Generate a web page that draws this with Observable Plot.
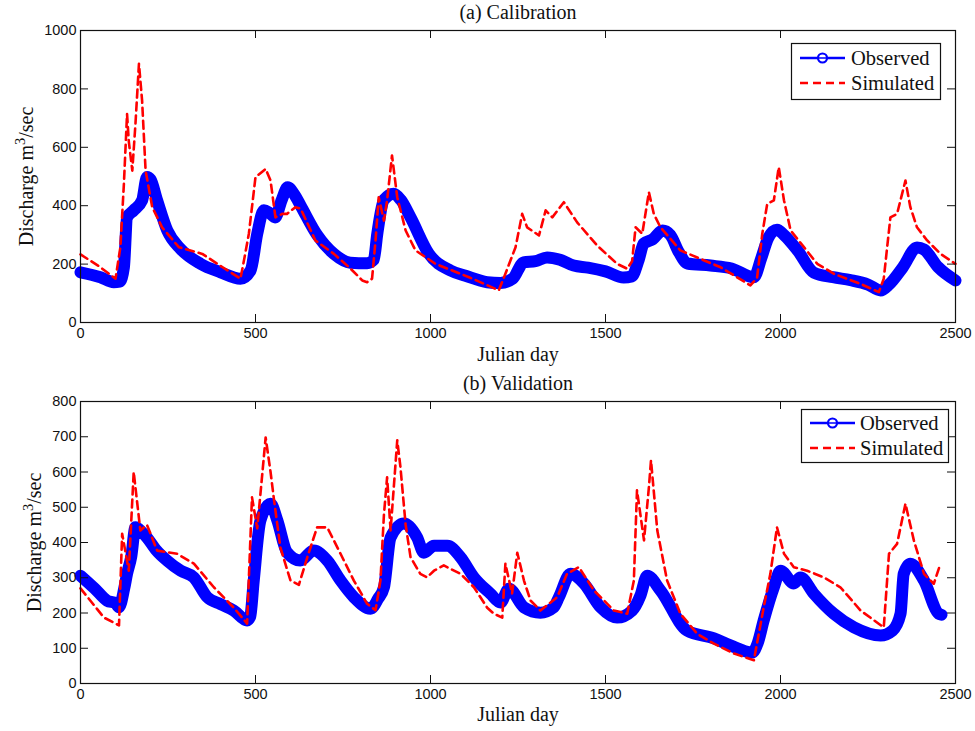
<!DOCTYPE html>
<html><head><meta charset="utf-8">
<script src="https://cdn.jsdelivr.net/npm/d3@7"></script>
<script src="https://cdn.jsdelivr.net/npm/@observablehq/plot@0.6"></script>
<style>
body{margin:0;background:#fff;}
#fig{position:relative;width:975px;height:731px;overflow:hidden;}
#fig > svg{display:block;}
.legend{position:absolute;left:0;top:0;}
</style></head><body><div id="fig"></div>
<script>
// ---- Data ----
const xTicks = [0, 500, 1000, 1500, 2000, 2500];
const calTicks = [0, 200, 400, 600, 800, 1000];
const valTicks = [0, 100, 200, 300, 400, 500, 600, 700, 800];
const seriesNames = ["Observed", "Simulated"];
const titles = ["(a) Calibration", "(b) Validation"];
const xLabel = "Julian day";
const yLabelParts = ["Discharge m", "3", "/sec"];

// (a) Calibration
const calObsDay = [0, 57, 95, 112, 124, 133, 152, 176, 190, 200, 219, 248, 286, 343, 400, 457, 486, 505, 524, 540, 556, 575, 592, 610, 629, 676, 724, 771, 819, 838, 848, 867, 895, 915, 943, 995, 1057, 1100, 1162, 1200, 1235, 1266, 1300, 1333, 1370, 1409, 1450, 1500, 1552, 1575, 1595, 1609, 1635, 1663, 1685, 1710, 1734, 1800, 1860, 1924, 1945, 1965, 1990, 2010, 2050, 2095, 2150, 2200, 2250, 2286, 2310, 2350, 2390, 2410, 2450, 2500];
const calObsQ = [172, 155, 138, 140, 189, 360, 384, 418, 498, 490, 418, 315, 252, 201, 172, 150, 178, 304, 384, 375, 360, 420, 463, 440, 400, 300, 235, 205, 203, 215, 304, 420, 441, 420, 360, 236, 178, 160, 138, 135, 150, 206, 210, 223, 215, 195, 188, 175, 154, 158, 215, 270, 285, 315, 300, 240, 202, 195, 185, 155, 220, 290, 318, 300, 245, 171, 155, 145, 130, 110, 130, 190, 257, 250, 190, 144];
const calSimDay = [0, 50, 100, 114, 124, 133, 138, 148, 157, 167, 176, 186, 205, 233, 281, 348, 405, 457, 467, 481, 500, 529, 543, 557, 576, 590, 614, 629, 671, 724, 771, 805, 819, 833, 843, 852, 867, 876, 890, 905, 929, 957, 1014, 1110, 1195, 1214, 1243, 1262, 1276, 1310, 1329, 1348, 1381, 1419, 1476, 1533, 1562, 1576, 1586, 1605, 1624, 1638, 1657, 1714, 1771, 1829, 1914, 1933, 1948, 1962, 1981, 1995, 2010, 2029, 2067, 2105, 2152, 2229, 2281, 2295, 2314, 2333, 2357, 2371, 2390, 2419, 2457, 2500];
const calSimQ = [233, 195, 150, 258, 475, 714, 620, 520, 680, 886, 760, 520, 395, 326, 258, 235, 190, 150, 212, 304, 498, 526, 486, 360, 372, 372, 395, 390, 281, 235, 185, 144, 138, 150, 281, 429, 349, 418, 572, 429, 315, 247, 201, 155, 110, 167, 258, 372, 326, 298, 384, 360, 412, 343, 264, 201, 184, 210, 326, 304, 446, 372, 326, 247, 218, 189, 127, 153, 304, 406, 418, 532, 418, 315, 258, 201, 167, 132, 104, 150, 360, 372, 486, 395, 326, 281, 235, 201];

// (b) Validation
const valObsDay = [0, 40, 76, 100, 110, 125, 133, 145, 157, 175, 190, 215, 247, 286, 324, 362, 400, 438, 476, 485, 495, 514, 543, 562, 590, 628, 666, 705, 743, 781, 829, 850, 867, 886, 924, 962, 981, 1010, 1048, 1086, 1124, 1171, 1200, 1224, 1267, 1314, 1352, 1367, 1400, 1438, 1486, 1533, 1576, 1600, 1619, 1657, 1733, 1810, 1857, 1919, 1935, 1952, 1981, 2000, 2038, 2057, 2095, 2152, 2210, 2286, 2320, 2343, 2352, 2371, 2410, 2452, 2460];
const valObsQ = [306, 270, 235, 228, 216, 270, 311, 360, 443, 430, 414, 380, 349, 320, 301, 245, 225, 207, 179, 190, 292, 462, 510, 464, 372, 349, 377, 349, 292, 245, 212, 240, 273, 414, 454, 414, 371, 391, 391, 358, 301, 255, 230, 269, 216, 201, 216, 245, 311, 284, 216, 187, 207, 250, 306, 264, 150, 128, 108, 88, 115, 179, 273, 320, 284, 301, 255, 198, 159, 136, 150, 198, 311, 340, 292, 198, 195];
const valSimDay = [0, 67, 100, 110, 119, 138, 152, 171, 190, 219, 276, 324, 381, 438, 476, 490, 505, 529, 543, 552, 571, 600, 624, 648, 676, 705, 743, 781, 819, 843, 857, 867, 876, 886, 905, 914, 929, 943, 971, 990, 1010, 1038, 1086, 1124, 1162, 1181, 1205, 1214, 1233, 1248, 1267, 1286, 1314, 1362, 1390, 1424, 1467, 1524, 1562, 1581, 1590, 1610, 1624, 1630, 1648, 1676, 1714, 1762, 1810, 1867, 1924, 1952, 1971, 1990, 2010, 2038, 2076, 2124, 2171, 2229, 2295, 2310, 2333, 2357, 2381, 2410, 2438, 2457];
const valSimQ = [270, 187, 170, 165, 425, 320, 600, 434, 450, 377, 368, 340, 273, 215, 170, 528, 440, 698, 600, 528, 386, 292, 280, 358, 443, 443, 368, 292, 226, 208, 292, 480, 585, 434, 690, 615, 450, 358, 311, 301, 320, 335, 311, 273, 215, 198, 187, 340, 255, 371, 292, 235, 207, 245, 311, 330, 264, 207, 198, 292, 548, 406, 557, 633, 434, 292, 198, 141, 113, 85, 66, 216, 311, 443, 368, 330, 320, 301, 273, 207, 159, 368, 396, 510, 406, 311, 283, 340];

// ---- Styles ----
const BLUE = "#0000ff", RED = "#ff0000";
const SANS = "'Liberation Sans', Arial, Helvetica, sans-serif";
const SERIF = "'Liberation Serif', 'Times New Roman', Times, serif";
const W = 975, ML = 80, MR = 20, TICK = 8;
const fmt = d => String(d);
const yLabel = yLabelParts.join("");

function panel({title, obsX, obsY, simX, simY, yTicks, height, mt, mb, labelDx, titleDy, xlabDy}) {
  const innerH = height - mt - mb, innerW = W - ML - MR;
  const obs = obsX.map((d, i) => ({day: d, q: obsY[i]}));
  const sim = simX.map((d, i) => ({day: d, q: simY[i]}));
  const svg = Plot.plot({
    width: W, height,
    marginLeft: ML, marginRight: MR, marginTop: mt, marginBottom: mb,
    style: {background: "white", overflow: "visible"},
    x: {domain: [xTicks[0], xTicks[xTicks.length - 1]]},
    y: {domain: [yTicks[0], yTicks[yTicks.length - 1]]},
    marks: [
      Plot.line(obs, {x: "day", y: "q", stroke: BLUE, strokeWidth: 12, strokeLinecap: "round", strokeLinejoin: "round", curve: "monotone-x"}),
      Plot.line(sim, {x: "day", y: "q", stroke: RED, strokeWidth: 2.6, strokeDasharray: "8,5"}),
      Plot.frame({stroke: "#111", strokeWidth: 1.2}),
      Plot.ruleX(xTicks, {x: d => d, insetTop: innerH - TICK, stroke: "#111"}),
      Plot.ruleX(xTicks, {x: d => d, insetBottom: innerH - TICK, stroke: "#111"}),
      Plot.ruleY(yTicks, {y: d => d, insetRight: innerW - TICK, stroke: "#111"}),
      Plot.ruleY(yTicks, {y: d => d, insetLeft: innerW - TICK, stroke: "#111"}),
      Plot.axisX({ticks: xTicks, tickSize: 0, tickPadding: 5, tickFormat: fmt, label: null, fontSize: 14.5, fontFamily: SANS, fill: "#111"}),
      Plot.axisY({ticks: yTicks, tickSize: 0, tickPadding: 4, tickFormat: fmt, label: null, fontSize: 14.5, fontFamily: SANS, fill: "#111"}),
      Plot.text([title], {text: d => d, frameAnchor: "top", dy: titleDy, lineAnchor: "bottom", fontFamily: SERIF, fontSize: 20, fill: "#111"}),
      Plot.text([xLabel], {text: d => d, frameAnchor: "bottom", dy: xlabDy, lineAnchor: "bottom", fontFamily: SERIF, fontSize: 20, fill: "#111"}),
      Plot.text([yLabel], {text: d => d, frameAnchor: "left", dx: labelDx, rotate: -90, textAnchor: "middle", lineAnchor: "middle", fontFamily: SERIF, fontSize: 20, fill: "#111"})
    ]
  });
  // turn the "3" of m3 into a raised superscript (kept as real text)
  d3.select(svg).selectAll("text").filter(function () { return this.textContent === yLabel; })
    .each(function () {
      const t = d3.select(this);
      t.text(null);
      t.append("tspan").text(yLabelParts[0]);
      t.append("tspan").attr("dy", "-0.55em").attr("font-size", "0.72em").text(yLabelParts[1]);
      t.append("tspan").attr("dy", "0.4em").text(yLabelParts[2]);
    });
  return svg;
}

const fig = document.getElementById("fig");
fig.appendChild(panel({title: titles[0], obsX: calObsDay, obsY: calObsQ, simX: calSimDay, simY: calSimQ, yTicks: calTicks, height: 365, mt: 30, mb: 43, labelDx: -54, titleDy: -12, xlabDy: 38}));
fig.appendChild(panel({title: titles[1], obsX: valObsDay, obsY: valObsQ, simX: valSimDay, simY: valSimQ, yTicks: valTicks, height: 366, mt: 36, mb: 48, labelDx: -46, titleDy: -12, xlabDy: 37}));

// ---- Legends ----
function legend(box, rows, lx0, lx1, tx) {
  const svg = d3.select(fig).append("svg").attr("class", "legend").attr("width", W).attr("height", 731)
    .style("pointer-events", "none");
  svg.append("rect").attr("x", box[0] + 0.5).attr("y", box[1] + 0.5).attr("width", box[2]).attr("height", box[3])
    .attr("fill", "white").attr("stroke", "#111").attr("stroke-width", 1.2);
  svg.append("line").attr("x1", lx0).attr("x2", lx1).attr("y1", rows[0]).attr("y2", rows[0]).attr("stroke", BLUE).attr("stroke-width", 2.5);
  svg.append("circle").attr("cx", (lx0 + lx1) / 2).attr("cy", rows[0]).attr("r", 4.5).attr("fill", "white").attr("stroke", BLUE).attr("stroke-width", 2.2);
  svg.append("line").attr("x1", (lx0 + lx1) / 2 - 4).attr("x2", (lx0 + lx1) / 2 + 4).attr("y1", rows[0]).attr("y2", rows[0]).attr("stroke", BLUE).attr("stroke-width", 1.5);
  svg.append("line").attr("x1", lx0).attr("x2", lx1).attr("y1", rows[1]).attr("y2", rows[1]).attr("stroke", RED).attr("stroke-width", 2.6).attr("stroke-dasharray", "8,5");
  seriesNames.forEach((s, i) => {
    svg.append("text").attr("x", tx).attr("y", rows[i] + 7).text(s)
      .attr("font-family", SERIF).attr("font-size", 20.5).attr("fill", "#111");
  });
}
legend([791, 43, 149, 56], [58, 83], 800, 845, 851);
legend([801, 409, 147, 53], [423, 448], 810, 855, 860);
</script></body></html>
